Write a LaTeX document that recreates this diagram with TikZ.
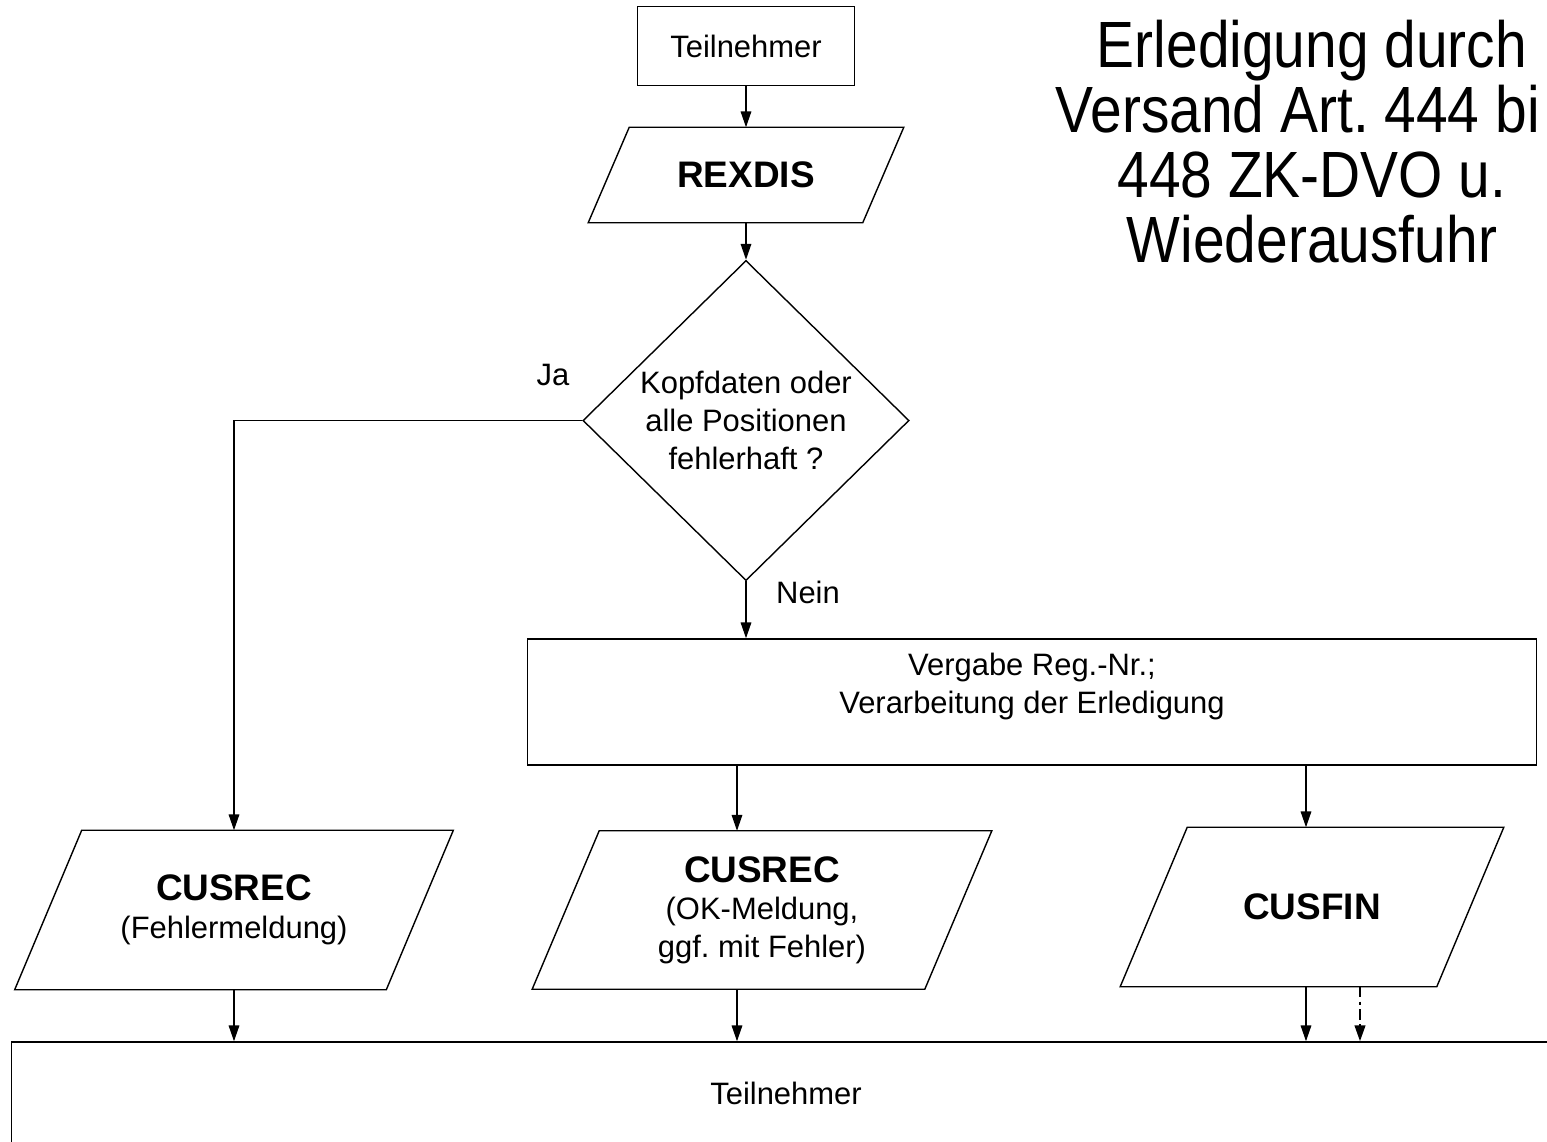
\documentclass[tikz,border=0pt]{standalone}
\usepackage{fontspec}
\setmainfont{Liberation Sans}
\newfontfamily\titelfont{Liberation Sans}[FakeStretch=0.87]
\usetikzlibrary{shapes.geometric, arrows.meta, positioning}

\newcommand\fettgr{\fontsize{10.5}{12}\selectfont\bfseries}

\begin{document}
\begin{tikzpicture}[
    x=0.01cm, y=-0.01cm,
    font=\fontsize{8.8}{10.7}\selectfont,
    line width=0.4pt,
    box/.style={rectangle, draw, align=center, inner sep=0pt},
    daten/.style={rectangle, align=center, inner sep=0pt,
        append after command={\pgfextra{\draw ([xshift=-#1]\tikzlastnode.south west) -- ([xshift=#1]\tikzlastnode.north west)
            -- ([xshift=#1]\tikzlastnode.north east) -- ([xshift=-#1]\tikzlastnode.south east) -- cycle;}}},
    daten/.default=0.335cm,
    raute/.style={diamond, draw, aspect=1, align=center, inner sep=0pt, minimum width=3.26cm, minimum height=3.2cm},
    pfeil/.style={-{Triangle[length=4.5pt, width=3pt]}}
]
    \clip (0,0) rectangle (1547,1141);

    % Nodes
    \node[box, minimum width=2.17cm, minimum height=0.79cm] (tn) at (746,46) {Teilnehmer};
    \node[daten=0.205cm, minimum width=2.73cm, minimum height=0.94cm, below=0.41cm of tn] (rexdis) {\fettgr REXDIS};
    \node[raute, below=0.37cm of rexdis] (pruef) {Kopfdaten oder\\alle Positionen\\fehlerhaft ?};
    \node[box, minimum width=10.08cm, minimum height=1.26cm] (verarb) at (1032,702) {Vergabe Reg.-Nr.;\\Verarbeitung der Erledigung\\\mbox{}};

    \node[daten, minimum width=3.70cm, minimum height=1.58cm] (rec1) at (234,910) {{\fettgr CUSREC}\\(Fehlermeldung)};
    \node[daten, minimum width=3.91cm, minimum height=1.57cm] (rec2) at (762,910) {{\fettgr CUSREC}\\(OK-Meldung,\\ggf.\ mit Fehler)};
    \node[daten, minimum width=3.15cm, minimum height=1.58cm] (cusfin) at (1312,907) {\fettgr CUSFIN};

    \node[box, minimum width=15.48cm, minimum height=1.02cm] (ziel) at (786,1093) {Teilnehmer};

    % Titel und Beschriftungen
    \node[align=center, font=\titelfont\fontsize{18.6}{18.5}\selectfont] (titel) at (1312,142) {Erledigung durch\\Versand Art.\ 444 bi\phantom{s}\\448 ZK-DVO u.\\Wiederausfuhr};
    \node (ja) at (553,375) {Ja};
    \node (nein) at (808,592) {Nein};

    \coordinate (achse2) at (737,0);
    \coordinate (achse3) at (1306,0);
    \coordinate (achse4) at (1360,0);

    % Arrows
    \draw[pfeil] (tn) -- (rexdis);
    \draw[pfeil] (rexdis) -- (pruef);
    \draw[pfeil] (pruef.west) -| (rec1);
    \draw[pfeil] (pruef.south) -- (pruef.south |- verarb.north);
    \draw[pfeil] (verarb.south -| achse2) -- (rec2.north -| achse2);
    \draw[pfeil] (verarb.south -| achse3) -- (cusfin.north -| achse3);
    \draw[pfeil] (rec1.south) -- (rec1.south |- ziel.north);
    \draw[pfeil] (rec2.south -| achse2) -- (ziel.north -| achse2);
    \draw[pfeil] (cusfin.south -| achse3) -- (ziel.north -| achse3);
    \draw[pfeil, line width=0.6pt, dash pattern=on 3pt off 1.2pt on 1pt off 1.2pt] (cusfin.south -| achse4) -- (ziel.north -| achse4);
\end{tikzpicture}
\end{document}
